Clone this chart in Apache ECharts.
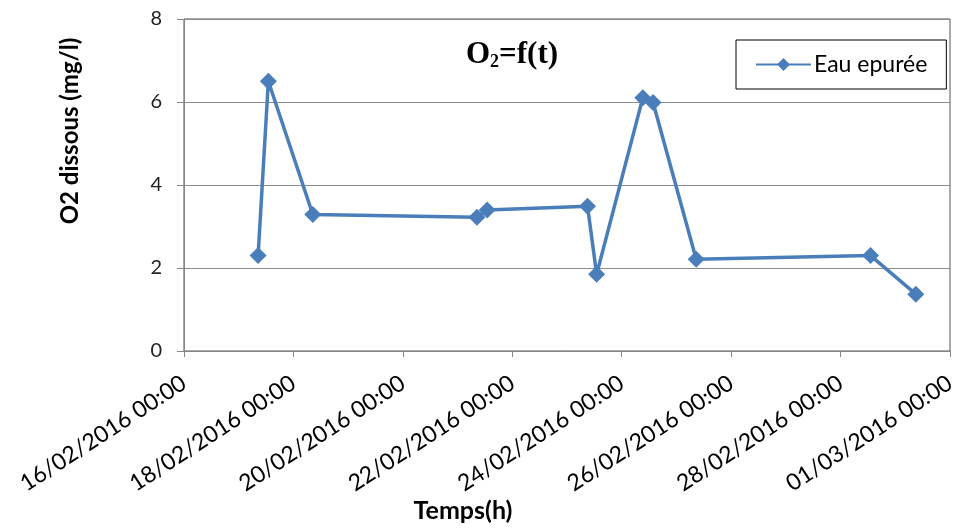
<!DOCTYPE html>
<html>
<head>
<meta charset="utf-8">
<script src="https://cdn.jsdelivr.net/npm/echarts@6/dist/echarts.min.js"></script>
<style>
  html, body { margin: 0; padding: 0; background: #fff; }
  #chart { width: 960px; height: 528px; }
</style>
</head>
<body>
<div id="chart"></div>
<script>
// Sampling times (dd/mm/yyyy HH:MM) and dissolved oxygen readings
const sampleTimes = [
  '17/02/2016 08:30', '17/02/2016 13:00', '18/02/2016 08:30',
  '21/02/2016 08:30', '21/02/2016 13:00', '23/02/2016 09:00',
  '23/02/2016 13:00', '24/02/2016 09:15', '24/02/2016 13:45',
  '25/02/2016 08:40', '28/02/2016 13:10', '29/02/2016 09:00'
];
const o2Values = [2.3, 6.5, 3.29, 3.22, 3.4, 3.49, 1.85, 6.1, 5.99, 2.21, 2.3, 1.37];
const seriesName = 'Eau epurée';

// X-axis tick labels, one every two days
const xTickLabels = [
  '16/02/2016 00:00', '18/02/2016 00:00', '20/02/2016 00:00', '22/02/2016 00:00',
  '24/02/2016 00:00', '26/02/2016 00:00', '28/02/2016 00:00', '01/03/2016 00:00'
];
const yTicks = [0, 2, 4, 6, 8];

function parseStamp(s) {
  const [d, t] = s.split(' ');
  const [dd, mm, yy] = d.split('/').map(Number);
  const [hh, mi] = t.split(':').map(Number);
  return Date.UTC(yy, mm - 1, dd, hh, mi);
}
const origin = parseStamp(xTickLabels[0]);
const dayOffset = s => (parseStamp(s) - origin) / 86400000;
const spanDays = dayOffset(xTickLabels[xTickLabels.length - 1]);
const points = sampleTimes.map((s, i) => [dayOffset(s), o2Values[i]]);

const blue = '#4A7EBB';
const font = 'Lato, "Open Sans", sans-serif';

const chart = echarts.init(document.getElementById('chart'), null, { renderer: 'canvas' });
chart.setOption({
  animation: false,
  backgroundColor: '#fff',
  grid: {
    left: 184, right: 10, top: 19, bottom: 177,
    show: true, borderColor: '#555', borderWidth: 1, backgroundColor: 'transparent'
  },
  legend: {
    left: 736, top: 40,
    padding: [13, 19, 13, 19],
    borderColor: '#000', borderWidth: 1,
    itemWidth: 55, itemHeight: 16, itemGap: 4,
    textStyle: { fontFamily: font, fontSize: 23, color: '#000', padding: [0, 0, 0, -2] },
    data: [seriesName]
  },
  xAxis: {
    type: 'value',
    min: 0, max: spanDays, interval: 2,
    axisLine: { show: true, lineStyle: { color: '#868686', width: 1 } },
    axisTick: { show: true, length: 6, lineStyle: { color: '#868686' } },
    splitLine: { show: false },
    axisLabel: {
      rotate: 33, margin: 30,
      fontFamily: font, fontSize: 23, color: '#000',
      formatter: v => xTickLabels[Math.round(v / 2)] || ''
    }
  },
  yAxis: {
    type: 'value',
    min: yTicks[0], max: yTicks[yTicks.length - 1], interval: 2,
    axisLine: { show: true, lineStyle: { color: '#868686', width: 1 } },
    axisTick: { show: true, length: 7, lineStyle: { color: '#868686' } },
    splitLine: { show: true, lineStyle: { color: '#8c8c8c', width: 1 } },
    axisLabel: { margin: 22, fontFamily: font, fontSize: 20, color: '#222' }
  },
  graphic: [
    {
      type: 'text', left: 466, top: 38,
      style: {
        text: '{m|O}{s|2}{m|=f(t)}',
        rich: {
          m: { fontFamily: '"Liberation Serif", serif', fontWeight: 'bold', fontSize: 31, lineHeight: 36, verticalAlign: 'middle', fill: '#000' },
          s: { fontFamily: '"Liberation Serif", serif', fontWeight: 'bold', fontSize: 18, lineHeight: 36, padding: [15, 0, 0, 0], verticalAlign: 'middle', fill: '#000' }
        }
      }
    },
    {
      type: 'text', x: 70, y: 131, rotation: Math.PI / 2,
      style: {
        text: 'O2 dissous (mg/l)', fontFamily: font, fontWeight: 'bold', fontSize: 24,
        fill: '#000', align: 'center', verticalAlign: 'middle'
      }
    },
    {
      type: 'text', x: 463, y: 511,
      style: {
        text: 'Temps(h)', fontFamily: font, fontWeight: 'bold', fontSize: 25,
        fill: '#000', align: 'center', verticalAlign: 'middle'
      }
    }
  ],
  series: [{
    name: seriesName,
    type: 'line',
    data: points,
    symbol: 'diamond', symbolSize: 17,
    lineStyle: { color: blue, width: 3.5 },
    itemStyle: { color: blue },
    z: 3
  }]
});
</script>
</body>
</html>
